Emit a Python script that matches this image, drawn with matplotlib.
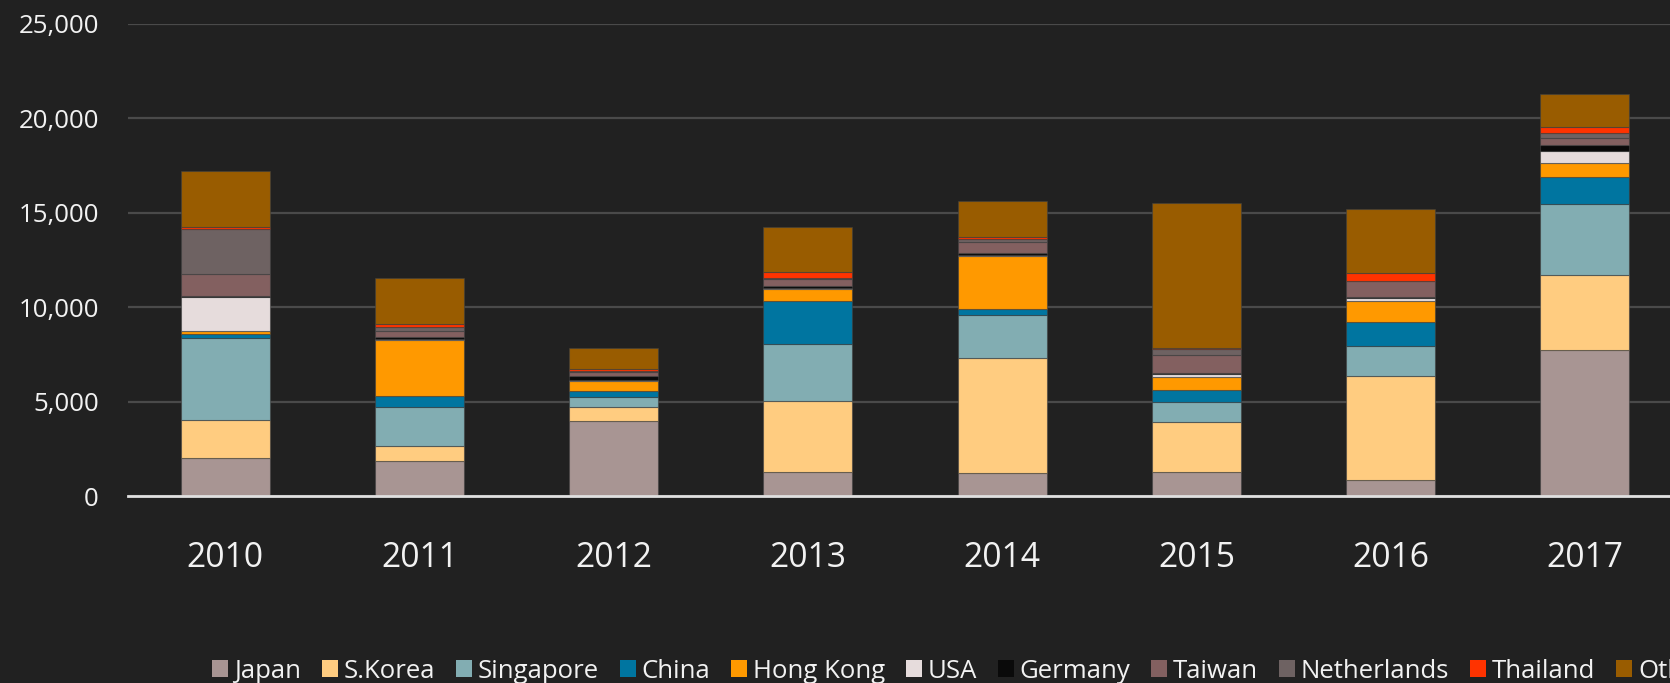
import matplotlib
matplotlib.use("Agg")
import matplotlib.pyplot as plt
import numpy as np

plt.rcParams['font.family'] = ['Open Sans', 'DejaVu Sans']

years = ['2010', '2011', '2012', '2013', '2014', '2015', '2016', '2017']

japan = [2030, 1870, 4000, 1290, 1230, 1270, 860, 7750]
skorea = [2030, 810, 740, 3760, 6110, 2680, 5530, 3970]
singapore = [4340, 2030, 500, 3020, 2280, 1040, 1590, 3760]
china = [200, 615, 320, 2260, 290, 650, 1255, 1430]
hongkong = [160, 2950, 550, 640, 2790, 650, 1110, 725]
usa = [1800, 70, 70, 50, 90, 190, 160, 650]
germany = [20, 60, 160, 90, 100, 50, 20, 320]
taiwan = [1200, 350, 230, 390, 550, 950, 865, 335]
netherlands = [2370, 210, 80, 30, 160, 290, 20, 300]
thailand = [120, 160, 70, 320, 140, 100, 430, 300]
other = [2970, 2420, 1110, 2420, 1900, 7680, 3340, 1750]

series_names = ['Japan', 'S.Korea', 'Singapore', 'China', 'Hong Kong', 'USA',
                'Germany', 'Taiwan', 'Netherlands', 'Thailand', 'Other']
series_values = [japan, skorea, singapore, china, hongkong, usa,
                 germany, taiwan, netherlands, thailand, other]
colors = ['#A89593', '#FFCC80', '#82ADB2', '#0075A0', '#FF9900', '#E6DCDC',
          '#0A0A0A', '#836060', '#6E6262', '#FF3300', '#995C00']

bg = '#212121'
fg = '#F2F2F2'

fig = plt.figure(figsize=(16.7, 6.83), dpi=100, facecolor=bg)
ax = fig.add_axes([128 / 1670, 0.2734, 1554 / 1670, 0.6915], facecolor=bg)

x = np.arange(len(years))
bottom = np.zeros(len(years))
for name, vals, col in zip(series_names, series_values, colors):
    vals = np.array(vals, dtype=float)
    ax.bar(x, vals, width=0.457, bottom=bottom, color=col, label=name,
           edgecolor=(0.25, 0.25, 0.25, 0.6), linewidth=0.8, zorder=3)
    bottom += vals

ax.set_xlim(-0.5, len(years) - 0.5)
ax.set_ylim(0, 25000)
ax.set_yticks(np.arange(0, 25001, 5000))
ax.set_yticklabels([f'{v:,}' for v in range(0, 25001, 5000)])
ax.set_xticks(x)
ax.set_xticklabels(years)

ax.yaxis.grid(True, color='#4A4A4A', linewidth=1.6, zorder=0)
ax.set_axisbelow(True)
for s in ['top', 'right', 'left']:
    ax.spines[s].set_visible(False)
ax.spines['bottom'].set_color('#E0E0E0')
ax.spines['bottom'].set_linewidth(2)
ax.spines['bottom'].set_zorder(4)

ax.tick_params(axis='y', length=0, pad=21, labelsize=18.6, labelcolor=fg)
ax.tick_params(axis='x', length=0, pad=32.5, labelsize=24.2, labelcolor=fg)

# legend runs off the right edge in the source chart
handles, labels = ax.get_legend_handles_labels()
leg = fig.legend(handles, labels, loc='center left',
                 bbox_to_anchor=(212 / 1670, 12 / 683), ncol=11,
                 frameon=False, fontsize=18.5, borderpad=0, borderaxespad=0,
                 handlelength=0.62, handleheight=0.62, handletextpad=0.23,
                 columnspacing=0.81)
for t in leg.get_texts():
    t.set_color(fg)
for h in leg.legend_handles:
    h.set_edgecolor('none')

fig.savefig('out.png', dpi=100, facecolor=bg)
